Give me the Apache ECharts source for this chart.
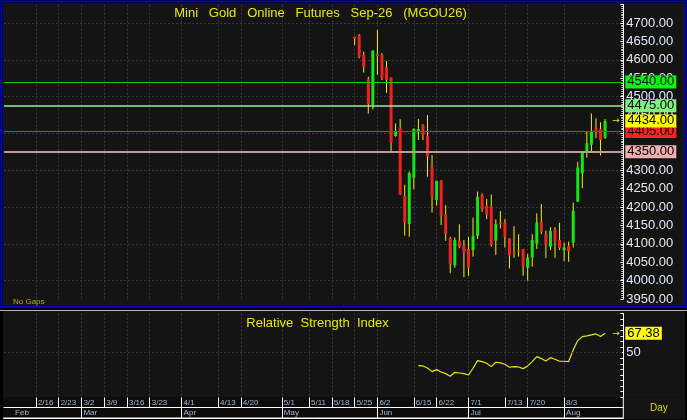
<!DOCTYPE html>
<html><head><meta charset="utf-8">
<script src="https://cdn.jsdelivr.net/npm/echarts@6/dist/echarts.min.js"></script>
<style>html,body{margin:0;padding:0;background:#000;}#c{width:687px;height:420px;}</style>
</head><body><div id="c"></div>
<script>
// ---- data ----
const dayCount = 137;
const weekLabels = ['2/16','2/23','3/2','3/9','3/16','3/23','4/1','4/13','4/20','5/1','5/11','5/18','5/25','6/2','6/15','6/22','7/1','7/13','7/20','8/3'];
const weekLabelDay = [7,12,17,22,27,32,39,47,52,61,67,72,77,82,90,95,102,110,115,123];
const monthLabels = ['Feb','Mar','Apr','May','Jun','Jul','Aug'];
const monthLabelDay = [2,17,39,61,82,102,123];

const candleFirstDay = 77;
const open  = [4662,4667,4613,4547,4477,4616,4613,4580,4552,4393,4414,4230,4154,4280,4403,4423,4393,4310,4219,4271,4178,4115,4042,4108,4095,4086,4083,4122,4233,4203,4201,4108,4157,4157,4115,4076,4082,4086,4035,4063,4101,4160,4126,4092,4138,4110,4083,4095,4103,4214,4291,4350,4369,4416,4412,4388];
const high  = [4663,4670,4622,4554,4625,4681,4618,4597,4552,4427,4439,4260,4296,4414,4439,4425,4450,4341,4271,4273,4205,4119,4117,4153,4110,4119,4171,4242,4237,4222,4234,4166,4189,4167,4115,4148,4126,4086,4072,4126,4183,4208,4136,4145,4145,4157,4103,4106,4212,4323,4349,4405,4454,4441,4430,4439];
const low   = [4640,4604,4565,4454,4465,4559,4545,4510,4350,4391,4233,4122,4119,4248,4382,4382,4282,4185,4204,4151,4108,4020,4035,4088,4009,4013,4065,4113,4187,4167,4092,4070,4142,4090,4033,4062,4065,4013,4000,4038,4086,4126,4061,4083,4062,4083,4053,4051,4090,4214,4251,4334,4349,4387,4340,4385];
const close = [4657,4608,4581,4480,4625,4611,4550,4545,4375,4405,4234,4158,4293,4412,4412,4396,4337,4228,4271,4176,4128,4046,4110,4091,4076,4035,4122,4228,4194,4178,4097,4153,4153,4119,4068,4073,4080,4038,4063,4110,4158,4133,4097,4135,4106,4088,4090,4080,4190,4307,4349,4373,4405,4405,4382,4434];

const rsiFirstDay = 91;
const rsi = [38.4,38.1,36.3,33.0,34.8,32.7,31.2,28.8,32.4,31.8,31.2,30.0,36.0,42.9,42.0,40.5,37.5,41.4,40.8,39.6,36.9,37.5,37.2,35.7,38.1,42.0,46.4,44.7,42.6,45.5,44.1,42.3,42.3,42.0,52.4,60.8,64.4,65.0,65.9,66.8,64.4,67.38];

const levelValues = [4540, 4475, 4405, 4350];
const levelLine   = ['#00d000', '#9ee89e', '#ff2020', '#c09a9a'];
const levelBox    = ['#00ff00', '#80f080', '#ff2020', '#f0b0b0'];
const lastPrice = 4434;
const lastRsi = 67.38;

// ---- chart ----
const FONT = '"Liberation Sans", Arial, sans-serif';
const days = Array.from({length: dayCount}, (_, i) => 'D' + i);
const weekMap = {}; weekLabelDay.forEach((d, i) => weekMap[d] = weekLabels[i]);
const monthMap = {}; monthLabelDay.forEach((d, i) => monthMap[d] = monthLabels[i]);
const monthSep = new Set(monthLabelDay.slice(1));
const isWeek = (i) => weekMap[i] !== undefined;
const isMonthSep = (i) => monthSep.has(i);
const isMonth = (i) => monthMap[i] !== undefined;

const candleData = open.map((o, i) => [candleFirstDay + i, o, close[i], low[i], high[i]]);
const rsiData = rsi.map((v, i) => [rsiFirstDay + i, v]);

const L = 4, R = 63.7;
const gridSplit = {show: true, lineStyle: {color: '#3a3a3a', type: [2, 2], width: 1}};

const boxLabel = (bg, txt) => ({
  show: true, position: 'end', distance: 2, formatter: (p) => Number(p.value).toFixed(2),
  backgroundColor: bg, color: txt || '#000', fontSize: 13, fontFamily: FONT,
  padding: [1, 2, 0, 2], lineHeight: 12
});

const priceMarks = levelValues.map((v, i) => ({
  yAxis: v,
  lineStyle: {color: levelLine[i], width: i === 3 ? 2 : (i === 1 ? 1.5 : 1), type: 'solid'},
  label: boxLabel(levelBox[i])
}));
priceMarks.push({yAxis: lastPrice, lineStyle: {color: 'transparent', width: 0}, label: boxLabel('#ffff00')});

const option = {
  animation: false,
  backgroundColor: '#000',
  title: [
    {text: 'Mini   Gold   Online   Futures   Sep-26   (MGOU26)', left: 315.5, top: 2, textAlign: 'center',
     textStyle: {color: '#e8e800', fontSize: 13, fontWeight: 'normal', fontFamily: FONT}},
    {text: 'Relative  Strength  Index', left: 312.5, top: 312, textAlign: 'center',
     textStyle: {color: '#e8e800', fontSize: 13, fontWeight: 'normal', fontFamily: FONT}}
  ],
  grid: [
    {left: L, right: R, top: 4.6, height: 294.4},
    {left: L, right: R, top: 313.6, height: 83.7},
    {left: L, right: R, top: 397.5, height: 10},
    {left: L, right: R, top: 407.5, height: 10.5}
  ],
  xAxis: [
    {gridIndex: 0, type: 'category', data: days, boundaryGap: false, axisLine: {show: false}, axisTick: {show: false},
     axisLabel: {show: false}, splitLine: Object.assign({interval: (i) => isWeek(i)}, gridSplit)},
    {gridIndex: 1, type: 'category', data: days, boundaryGap: false, axisLine: {show: false}, axisTick: {show: false},
     axisLabel: {show: false}, splitLine: Object.assign({interval: (i) => isWeek(i)}, gridSplit)},
    {gridIndex: 2, type: 'category', data: days, boundaryGap: false, position: 'top',
     axisLine: {show: true, lineStyle: {color: '#ffffff', width: 1}}, axisTick: {show: false},
     axisLabel: {show: true, inside: true, margin: 1, interval: (i) => isWeek(i), formatter: (v, i) => weekMap[i] || '',
                 align: 'left', padding: [0, 0, 0, 2], fontSize: 8, color: '#a8b8d0', fontFamily: FONT},
     splitLine: {show: true, interval: (i) => isWeek(i), lineStyle: {color: '#ffffff', width: 1}}},
    {gridIndex: 3, type: 'category', data: days, boundaryGap: false, position: 'top',
     axisLine: {show: true, lineStyle: {color: '#ffffff', width: 1}}, axisTick: {show: false},
     axisLabel: {show: true, inside: true, margin: 1, interval: (i) => isMonth(i), formatter: (v, i) => monthMap[i] || '',
                 align: 'left', padding: [0, 0, 0, 2], fontSize: 8, color: '#a8b8d0', fontFamily: FONT},
     splitLine: {show: true, interval: (i) => isMonthSep(i), lineStyle: {color: '#ffffff', width: 1}}}
  ],
  yAxis: [
    {gridIndex: 0, type: 'value', position: 'right', min: 3950, max: 4750, interval: 50,
     axisLine: {show: true, lineStyle: {color: '#ffffff'}},
     axisTick: {show: true, inside: true, length: 3, lineStyle: {color: '#ffffff'}},
     minorTick: {show: true, splitNumber: 10, length: 2, lineStyle: {color: '#cfcfcf'}},
     axisLabel: {show: true, margin: 3, formatter: (v) => v.toFixed(2), color: '#dfe8f2', fontSize: 13,
                 fontFamily: FONT, showMaxLabel: false},
     splitLine: {show: true, lineStyle: {color: ['transparent', '#3a3a3a'], type: [2, 2], width: 1}}},
    {gridIndex: 1, type: 'value', position: 'right', min: 10, max: 85, interval: 5,
     axisLine: {show: true, lineStyle: {color: '#ffffff'}},
     axisTick: {show: true, inside: true, length: 3, lineStyle: {color: '#ffffff'}},
     axisLabel: {show: true, margin: 3, formatter: (v) => (v === 50 ? '50' : ''), color: '#dfe8f2', fontSize: 13, fontFamily: FONT},
     splitLine: {show: false}},
    {gridIndex: 2, type: 'value', show: false},
    {gridIndex: 3, type: 'value', show: false}
  ],
  series: [
    {
      type: 'custom', name: 'MGOU26', xAxisIndex: 0, yAxisIndex: 0, clip: true,
      data: candleData,
      encode: {x: 0, y: [1, 2, 3, 4]},
      renderItem: (params, api) => {
        const x = api.value(0);
        const o = api.value(1), c = api.value(2), lo = api.value(3), hi = api.value(4);
        const pO = api.coord([x, o]), pC = api.coord([x, c]);
        const pL = api.coord([x, lo]), pH = api.coord([x, hi]);
        const up = c >= o;
        const top = Math.min(pO[1], pC[1]);
        const h = Math.max(1, Math.abs(pO[1] - pC[1]));
        return {type: 'group', children: [
          {type: 'line', shape: {x1: pH[0], y1: pH[1], x2: pL[0], y2: pL[1]},
           style: {stroke: '#f0f000', lineWidth: 1}},
          {type: 'rect', shape: {x: pO[0] - 1.5, y: top, width: 3, height: h},
           style: {fill: up ? '#10e810' : '#f42020'}}
        ]};
      },
      markLine: {silent: true, symbol: ['none', 'none'], animation: false, data: priceMarks},
      markPoint: {silent: true, animation: false, symbol: 'circle', symbolSize: 1, itemStyle: {color: 'transparent'},
        data: [{coord: [candleFirstDay + close.length - 1, lastPrice]}],
        label: {show: true, formatter: '\u2192', offset: [11, 0], color: '#f0f000', fontSize: 9, fontFamily: 'DejaVu Sans'}}
    },
    {
      type: 'line', name: 'RSI', xAxisIndex: 1, yAxisIndex: 1, data: rsiData, symbol: 'none',
      lineStyle: {color: '#e8e800', width: 1.2},
      markLine: {silent: true, symbol: ['none', 'none'], animation: false, data: [
        {yAxis: 50, lineStyle: {color: '#3a3a3a', type: [2, 2], width: 1}, label: {show: false}},
        {yAxis: lastRsi, lineStyle: {color: 'transparent', width: 0}, label: boxLabel('#ffff00')}
      ]},
      markPoint: {silent: true, animation: false, symbol: 'circle', symbolSize: 1, itemStyle: {color: 'transparent'},
        data: [{coord: [rsiFirstDay + rsi.length - 1, lastRsi]}],
        label: {show: true, formatter: '\u2192', offset: [11, 0], color: '#f0f000', fontSize: 9, fontFamily: 'DejaVu Sans'}}
    }
  ],
  graphic: [
    {type: 'rect', z: -10, shape: {x: 3, y: 3, width: 682, height: 303}, style: {fill: '#141414'}},
    {type: 'rect', z: -10, shape: {x: 3, y: 311, width: 682, height: 86.5}, style: {fill: '#141414'}},
    {type: 'rect', z: -10, shape: {x: 3, y: 397.5, width: 620.3, height: 21}, style: {fill: '#0c0c0c'}},
    {type: 'rect', z: -10, shape: {x: 623.3, y: 397.5, width: 62, height: 22}, style: {fill: '#141414'}},
    {type: 'rect', z: 100, shape: {x: 1.5, y: 1.5, width: 684, height: 305.5}, style: {fill: null, stroke: '#0000c8', lineWidth: 2}},
    {type: 'line', z: 100, shape: {x1: 0, y1: 310.5, x2: 687, y2: 310.5}, style: {stroke: '#b8b8b8', lineWidth: 1}},
    {type: 'line', z: 100, shape: {x1: 3, y1: 418, x2: 623.3, y2: 418}, style: {stroke: '#ffffff', lineWidth: 1}},
    {type: 'line', z: 100, shape: {x1: 623.3, y1: 397.5, x2: 623.3, y2: 418}, style: {stroke: '#ffffff', lineWidth: 1}},
    {type: 'text', z: 100, x: 13, y: 298, style: {text: 'No Gaps', fill: '#b0b000', fontSize: 8, fontFamily: FONT}},
    {type: 'text', z: 100, x: 650, y: 403, style: {text: 'Day', fill: '#d8d800', fontSize: 10, fontFamily: FONT}}
  ]
};

const chart = echarts.init(document.getElementById('c'), null, {renderer: 'canvas'});
chart.setOption(option);
</script>
</body></html>
